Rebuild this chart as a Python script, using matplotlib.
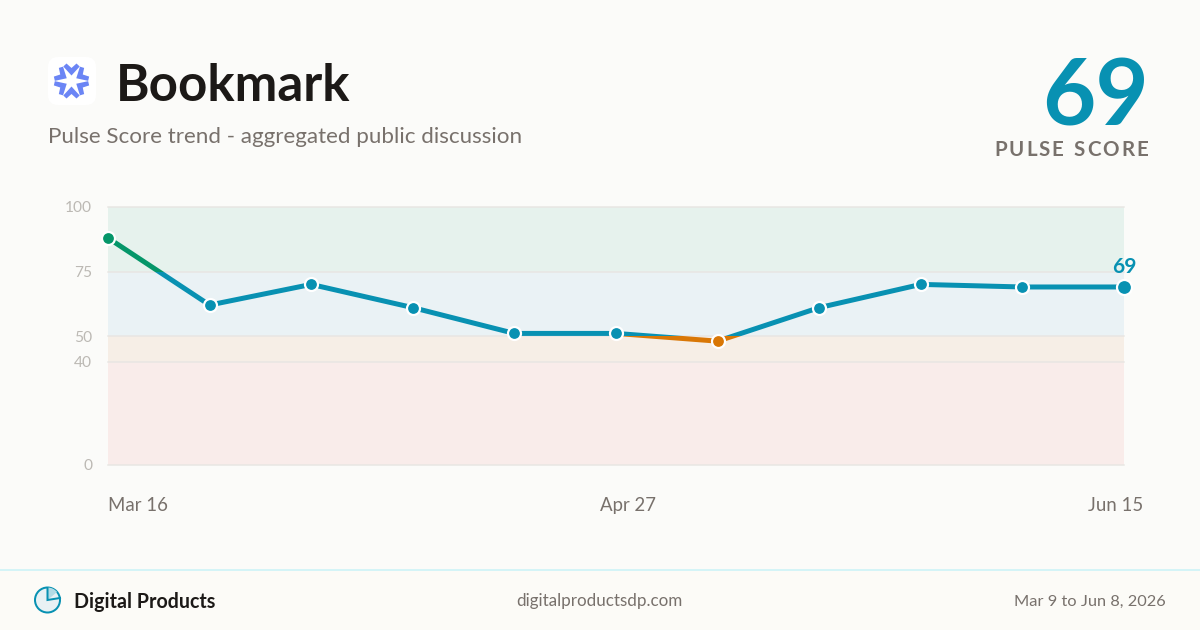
"""Pulse Score trend card for Bookmark."""

import numpy as np
import matplotlib
matplotlib.use('Agg')
import matplotlib.pyplot as plt
from matplotlib.patches import Circle, FancyBboxPatch, Polygon, Rectangle, Wedge

# Data
point_index = list(range(11))
pulse_values = [88, 62, 70, 61, 51, 51, 48, 61, 70, 69, 69]
y_ticks = [0, 40, 50, 75, 100]
x_tick_labels = ['Mar 16', 'Apr 27', 'Jun 15']
current_score = 69

# Project colors
BLUE = '#0891b2'
GREEN = '#059669'
ORANGE = '#d97706'
BG = '#fbfbf9'
FOOTER_BG = '#fcfbf7'
MUTED = '#78716c'
DARK = '#1c1917'
FONT = 'Lato'


def pt(px):
    # 100 dpi, so px -> points
    return px * 0.72


def spaced_text(ax, right_x, y, s, size, gap, **kwargs):
    """Draw text letter by letter, ending at right_x, since mpl has no letter spacing."""
    renderer = ax.figure.canvas.get_renderer()
    x = right_x
    for ch in reversed(s):
        if ch == ' ':
            x -= size * 0.3 + gap
            continue
        t = ax.text(x, y, ch, ha='right', va='baseline', fontsize=pt(size), **kwargs)
        width = t.get_window_extent(renderer).width
        x -= width + gap


def band_color(v):
    if v >= 75:
        return GREEN
    if v >= 50:
        return BLUE
    return ORANGE


fig = plt.figure(figsize=(12, 6.3), dpi=100, facecolor=BG)

# Overlay in pixel coords for header, footer and logo
bg = fig.add_axes([0, 0, 1, 1], zorder=0)
bg.set_xlim(0, 1200)
bg.set_ylim(630, 0)
bg.axis('off')

# Logo
bg.add_patch(FancyBboxPatch((54, 63), 36, 36, boxstyle='round,pad=6,rounding_size=10',
                            fc='white', ec='none'))
blade = np.array([[0, 5.5], [-8.2, 14.5], [-5, 17.5], [0, 13], [5, 17.5], [8.2, 14.5]])
for deg in range(0, 360, 60):
    a = np.radians(deg)
    rot = np.array([[np.cos(a), -np.sin(a)], [np.sin(a), np.cos(a)]])
    bg.add_patch(Polygon(blade @ rot.T + [71.5, 81], fc='#6b85f5', ec='none'))

# Header
bg.text(116, 101, 'Bookmark', fontsize=pt(51), fontweight='bold', color=DARK,
        family=FONT, va='baseline')
bg.text(48, 143, 'Pulse Score trend - aggregated public discussion', fontsize=pt(22.4),
        color=MUTED, family=FONT, va='baseline')
bg.text(1149, 126, str(current_score), fontsize=pt(92), fontweight='bold', color=BLUE,
        family=FONT, ha='right', va='baseline')
fig.canvas.draw()
spaced_text(bg, 1148, 156, 'PULSE SCORE', 20.5, 2.0, color=MUTED, family=FONT, fontweight='bold')

# X labels hang off the plot ends, so they sit on the overlay
for label, x, align in zip(x_tick_labels, [108, 627.5, 1143], ['left', 'center', 'right']):
    bg.text(x, 511, label, fontsize=pt(18.6), color=MUTED, family=FONT, ha=align, va='baseline')

# Footer
bg.add_patch(Rectangle((0, 569), 1200, 61, fc=FOOTER_BG, ec='none'))
bg.plot([0, 1200], [569.5, 569.5], color='#c8f3f8', lw=pt(1.5))
bg.add_patch(Circle((47.5, 600), 12.5, fc='#e8f1f4', ec=BLUE, lw=pt(2)))
bg.add_patch(Wedge((47.5, 600), 12.5, -90, -40, fc='#b3dbe5', ec='none'))
bg.plot([47.5, 47.5, 60], [588, 600, 598], color=BLUE, lw=pt(2), solid_joinstyle='miter')
bg.text(74, 607.5, 'Digital Products', fontsize=pt(19.6), fontweight='bold', color=DARK,
        family=FONT, va='baseline')
bg.text(599, 606, 'digitalproductsdp.com', fontsize=pt(17), color=MUTED, family=FONT,
        ha='center', va='baseline')
bg.text(1166, 606, 'Mar 9 to Jun 8, 2026', fontsize=pt(16.4), color=MUTED, family=FONT,
        ha='right', va='baseline')

# Chart
ax = fig.add_axes([108 / 1200, 1 - 465 / 630, 1016 / 1200, 258 / 630], zorder=1)
ax.set_facecolor('none')

ax.axhspan(75, 100, color='#e6f2ed', lw=0)
ax.axhspan(50, 75, color='#eaf2f5', lw=0)
ax.axhspan(40, 50, color='#f6eee6', lw=0)
ax.axhspan(0, 40, color='#f9ecea', lw=0)
for v in y_ticks:
    ax.axhline(v, color='#e8e6e3', lw=pt(1.5), clip_on=False, zorder=1)

for side in ax.spines.values():
    side.set_visible(False)

ax.set_yticks(y_ticks)
ax.set_yticklabels(y_ticks, fontsize=pt(15.5), color='#bcb9b4', family=FONT)
ax.tick_params(axis='y', length=0, pad=pt(16))
ax.set_xticks([])

# One line per score band, clipped to the band so the colour changes at the boundary
for low, high, color in [(75, 101, GREEN), (50, 75, BLUE), (-1, 50, ORANGE)]:
    clip = Rectangle((-1, low), 12, high - low, transform=ax.transData)
    line, = ax.plot(point_index, pulse_values, color=color, lw=pt(5), zorder=3,
                    solid_capstyle='round', solid_joinstyle='round', clip_on=True)
    line.set_clip_path(clip)

for i, v in zip(point_index, pulse_values):
    last = i == point_index[-1]
    ax.plot(i, v, 'o', ms=pt(15 if last else 13), mfc=band_color(v), mec='white',
            mew=pt(2.2), clip_on=False, zorder=4)

ax.annotate(str(pulse_values[-1]), (point_index[-1], pulse_values[-1]), xytext=(0, pt(14)),
            textcoords='offset points', ha='center', va='baseline', fontsize=pt(21),
            fontweight='bold', color=BLUE, family=FONT, annotation_clip=False)

ax.set_xlim(0, 10)
ax.set_ylim(0, 100)

fig.savefig('out.png', dpi=100, facecolor=BG)
plt.close(fig)
